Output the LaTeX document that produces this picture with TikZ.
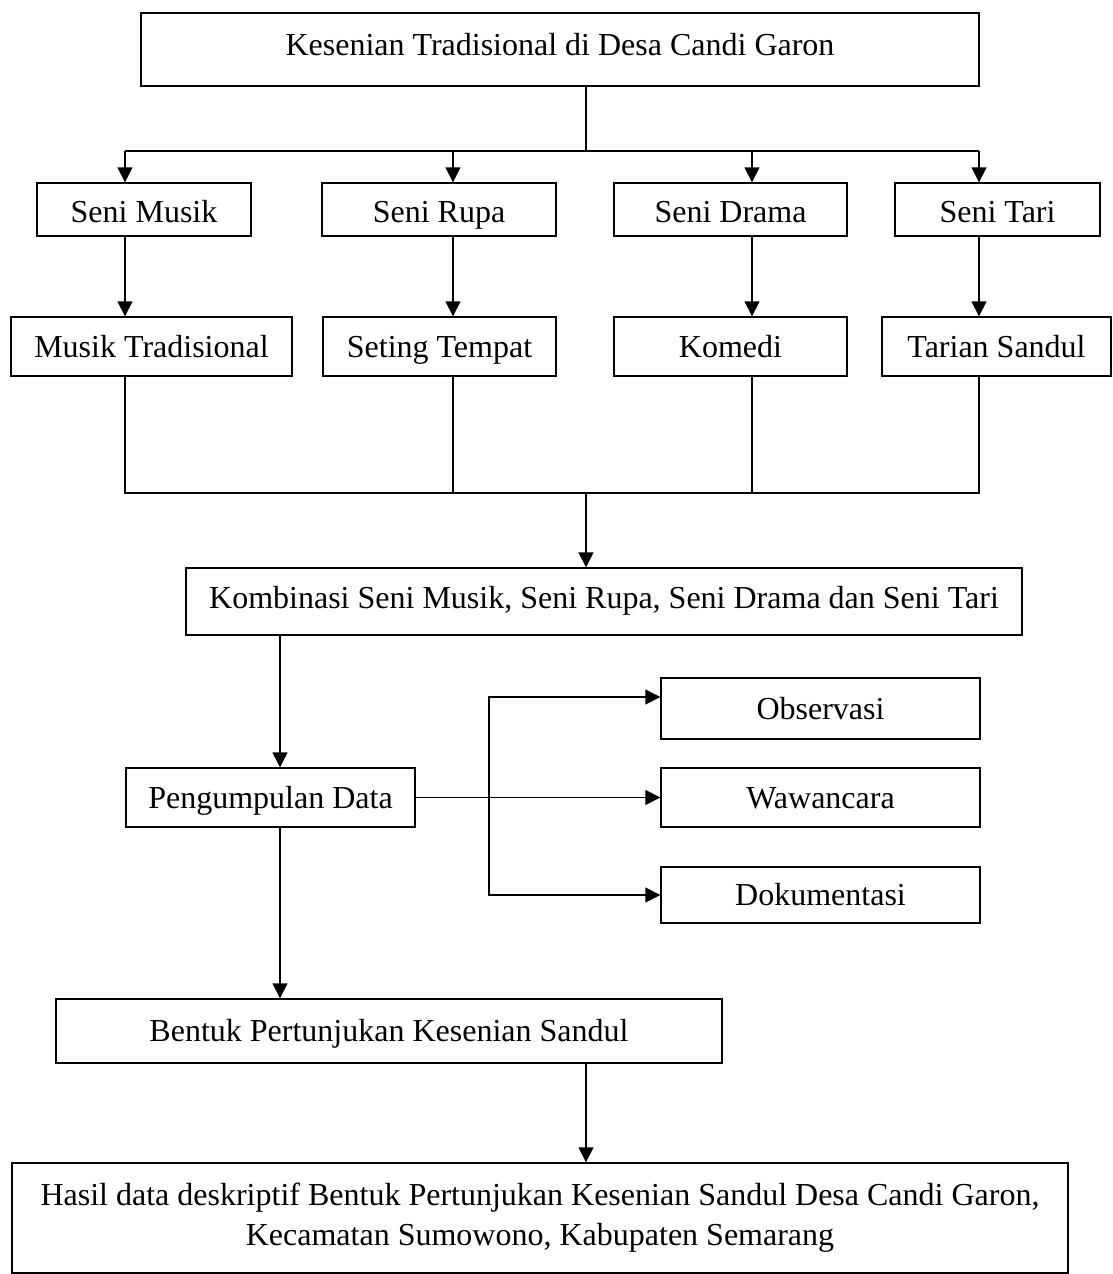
\documentclass[tikz,border=0pt]{standalone}
\usepackage{fontspec}
\setmainfont{Liberation Serif}
\usetikzlibrary{arrows.meta}
\begin{document}
\begin{tikzpicture}[x=1pt,y=-1pt]
    \tikzset{box/.style = {draw, line width=1.4pt, inner sep=0pt, font=\fontsize{32}{40}\selectfont}}
    \tikzset{one/.style = {box, text height=21pt, text depth=0pt}}
    \tikzset{arr/.style = {-{Triangle[length=15pt,width=15pt]}, line width=1.6pt}}
    \tikzset{ln/.style = {line width=1.6pt}}

    \useasboundingbox (0,0) rectangle (1113,1274);

    \node[one, minimum width=838pt, minimum height=73pt, text depth=9pt] (kesenian) at (560,49.5) {Kesenian Tradisional di Desa Candi Garon};

    \node[one, minimum width=214pt, minimum height=53pt, text height=26pt] (musik) at (144,209.5) {Seni Musik};
    \node[one, minimum width=234pt, minimum height=53pt, text height=26pt] (rupa) at (439,209.5) {Seni Rupa};
    \node[one, minimum width=233pt, minimum height=53pt, text height=26pt] (drama) at (730.5,209.5) {Seni Drama};
    \node[one, minimum width=205pt, minimum height=53pt, text height=26pt] (tari) at (997.5,209.5) {Seni Tari};

    \node[one, minimum width=281pt, minimum height=59pt] (tradisional) at (151.5,346.5) {Musik Tradisional};
    \node[one, minimum width=233pt, minimum height=59pt] (seting) at (439.5,346.5) {Seting Tempat};
    \node[one, minimum width=233pt, minimum height=59pt] (komedi) at (730.5,346.5) {Komedi};
    \node[one, minimum width=229pt, minimum height=59pt] (sandul) at (996.5,346.5) {Tarian Sandul};

    \node[one, minimum width=836pt, minimum height=67pt, text depth=7pt] (kombinasi) at (604,601.5) {Kombinasi Seni Musik, Seni Rupa, Seni Drama dan Seni Tari};

    \node[one, minimum width=289pt, minimum height=59pt] (pengumpulan) at (270.5,797.5) {Pengumpulan Data};
    \node[one, minimum width=319pt, minimum height=61pt] (observasi) at (820.5,708.5) {Observasi};
    \node[one, minimum width=319pt, minimum height=59pt] (wawancara) at (820.5,797.5) {Wawancara};
    \node[one, minimum width=319pt, minimum height=56pt] (dokumentasi) at (820.5,895) {Dokumentasi};

    \node[one, minimum width=666pt, minimum height=64pt] (bentuk) at (389,1031) {Bentuk Pertunjukan Kesenian Sandul};
    \node[box, align=center, minimum width=1056pt, minimum height=110pt] (hasil) at (540,1218) {Hasil data deskriptif Bentuk Pertunjukan Kesenian Sandul Desa Candi Garon,\\Kecamatan Sumowono, Kabupaten Semarang};

    % fork under the top box
    \coordinate (fork) at (586,151);
    \coordinate (f1) at (125,151);
    \coordinate (f2) at (453,151);
    \coordinate (f3) at (752,151);
    \coordinate (f4) at (979,151);
    \draw[ln] (kesenian.south -| fork) -- (fork);
    \draw[ln] (f1) -- (f4);
    \draw[arr] (f1) -- (f1 |- musik.north);
    \draw[arr] (f2) -- (f2 |- rupa.north);
    \draw[arr] (f3) -- (f3 |- drama.north);
    \draw[arr] (f4) -- (f4 |- tari.north);

    \draw[arr] (f1 |- musik.south) -- (f1 |- tradisional.north);
    \draw[arr] (f2 |- rupa.south) -- (f2 |- seting.north);
    \draw[arr] (f3 |- drama.south) -- (f3 |- komedi.north);
    \draw[arr] (f4 |- tari.south) -- (f4 |- sandul.north);

    % join above the combination
    \coordinate (join) at (586,493);
    \coordinate (j1) at (125,493);
    \coordinate (j2) at (453,493);
    \coordinate (j3) at (752,493);
    \coordinate (j4) at (979,493);
    \draw[ln] (j1 |- tradisional.south) -- (j1) -- (j4) -- (j4 |- sandul.south);
    \draw[ln] (j2 |- seting.south) -- (j2);
    \draw[ln] (j3 |- komedi.south) -- (j3);
    \draw[arr] (join) -- (join |- kombinasi.north);

    \coordinate (col) at (280,0);
    \draw[arr] (kombinasi.south -| col) -- (pengumpulan.north -| col);

    % data collection
    \coordinate (b1) at (489,697);
    \coordinate (b2) at (489,895);
    \draw[arr] (pengumpulan.east) -- (wawancara.west);
    \draw[arr] (b2) -- (b1) -- (b1 -| observasi.west);
    \draw[arr] (b1) -- (b2) -- (b2 -| dokumentasi.west);

    \draw[arr] (pengumpulan.south -| col) -- (bentuk.north -| col);
    \coordinate (mid) at (586,0);
    \draw[arr] (bentuk.south -| mid) -- (hasil.north -| mid);

\end{tikzpicture}
\end{document}
